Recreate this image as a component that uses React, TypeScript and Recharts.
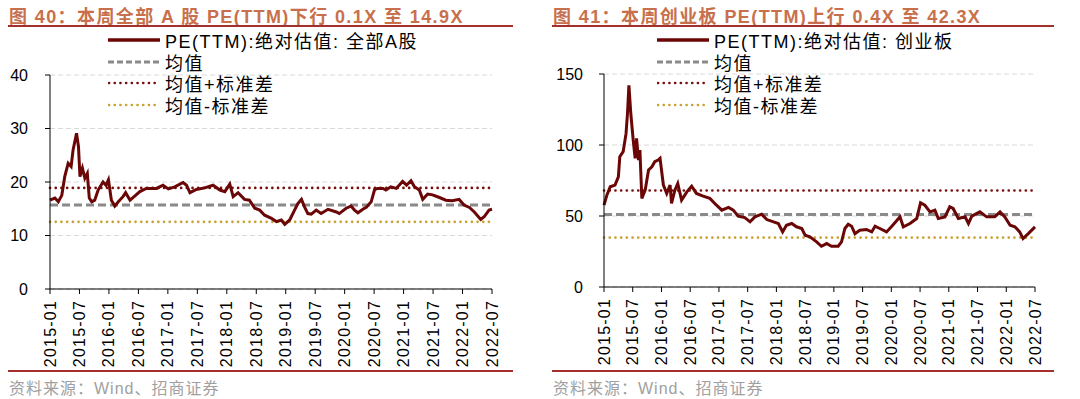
import React from 'react';
import { LineChart, Line, XAxis, YAxis, CartesianGrid, ReferenceLine } from 'recharts';

// months counted from 2015-01
const xTickMonths = [0, 6, 12, 18, 24, 30, 36, 42, 48, 54, 60, 66, 72, 78, 84, 90];
const xTickLabels = [
  '2015-01', '2015-07', '2016-01', '2016-07', '2017-01', '2017-07', '2018-01', '2018-07',
  '2019-01', '2019-07', '2020-01', '2020-07', '2021-01', '2021-07', '2022-01', '2022-07'
];

// 全部A股 PE(TTM)
const allAMonths = [
  0, 1, 1.7, 2.4, 3, 3.7, 4.3, 4.7, 5.4, 5.8, 6.1, 6.6, 7.1, 7.6, 8, 8.5, 9.1, 9.8, 10.8, 11.4,
  11.9, 12.5, 13.2, 13.9, 14.9, 15.4, 16.3, 17.3, 18.3, 19.6, 21.7, 23, 24.1, 25.4, 27.1, 27.8,
  28.5, 29.8, 31.5, 33.2, 34.6, 35.6, 36.6, 37.3, 38.3, 39.6, 40.6, 41.7, 42.7, 43.7, 45.1, 46.1,
  47.1, 47.8, 48.8, 49.8, 50.5, 51.2, 51.8, 52.5, 53.2, 54.2, 55.2, 56.6, 58.3, 58.9, 60.3, 61.3,
  62, 62.7, 63.7, 64.4, 65.4, 66.1, 66.7, 67.8, 68.4, 69.4, 70.5, 71.8, 72.6, 73.5, 74.2, 75.2,
  75.9, 76.9, 77.9, 79.3, 80.6, 81.9, 83.3, 84.3, 85.4, 86.4, 87.7, 88.4, 89.4, 90
];
const allAPe = [
  16.6, 17, 16.3, 17.5, 21, 23.5, 22.9, 26, 29.1, 26.6, 21, 22.6, 20.7, 21.6, 17, 16.3, 16.6, 18.5, 20, 19.4,
  20.4, 16.6, 15.5, 16.3, 17.3, 18, 16.6, 17.4, 18.2, 18.8, 18.8, 19.4, 18.7, 19.1, 19.9, 19.4,
  18, 18.6, 18.9, 19.4, 18.5, 18.2, 19.6, 17.25, 18, 16.75, 16.6, 15.1, 14.75, 13.8, 13.2, 12.6,
  12.9, 12.1, 12.9, 14.75, 16, 16.75, 15.4, 14.1, 14, 14.75, 14.1, 14.9, 14.4, 14.1, 15.1, 15.5,
  14.75, 14.25, 14.9, 15.25, 16.3, 18.6, 18.8, 18.8, 18.5, 19.1, 18.8, 20.1, 19.4, 20.25, 19.1, 18.5,
  16.75, 17.75, 17.6, 17.1, 16.6, 16.5, 16.75, 15.7, 15.25, 14.4, 13, 13.5, 14.75, 14.9
];
const allAStats = [15.7, 18.9, 12.55]; // 均值, 均值+标准差, 均值-标准差

// 创业板 PE(TTM)
const gemMonths = [
  0, 0.6, 1.3, 2.3, 3, 3.3, 4, 4.6, 4.9, 5.2, 5.6, 6.1, 6.5, 6.8, 7.2, 7.5, 7.9, 8.6, 9.3, 10,
  10.6, 11.3, 11.7, 12.4, 13.1, 13.8, 14.1, 14.8, 15.4, 16.2, 17.3, 18.3, 19.3, 20.7, 22.1, 23.5,
  24.6, 26, 27, 28, 29.4, 30.5, 31.5, 32.9, 34, 35.4, 36.4, 37.3, 38.1, 39.2, 40.2, 41.3, 42, 43,
  44.4, 45.4, 46.5, 47.5, 48.9, 49.6, 50.3, 51, 51.7, 52.4, 53.4, 54.8, 55.9, 56.6, 57.6, 59,
  60.1, 61.1, 61.8, 62.5, 63.9, 65.3, 66.1, 67, 68.1, 69.1, 69.8, 71.2, 72.2, 72.9, 74, 75.4,
  76.1, 76.8, 78.5, 79.9, 81.6, 82.7, 83.7, 84.8, 85.8, 86.8, 87.5, 88.6, 90
];
const gemPe = [
  57.6, 64.7, 70.6, 71.8, 77.6, 91.8, 95.3, 108, 122, 142, 122, 103.5, 90.6, 104.7, 89.4, 96.5, 62.4, 68.2, 82.4, 84.7,
  88.2, 89.4, 90.6, 71.8, 65.9, 71.8, 58.8, 68.2, 72.9, 61.2, 67, 71, 65.9, 64, 62.4, 57.6,
  54.1, 56, 54.1, 49.9, 48.9, 45.9, 49.4, 51.3, 47.5, 45.9, 44.7, 38.8, 43.5, 44.7, 42.4, 41.2, 36.5, 35.3,
  31.8, 28.7, 30.6, 28.7, 28.7, 31.8, 41.2, 44.2, 42.8, 37.6, 40, 40.5, 38.8, 42.8, 41.2, 38.8,
  42.8, 46.6, 49.4, 42.4, 44.7, 48.2, 59.3, 57.6, 52.9, 54.1, 48.2, 49.4, 56.5, 55.3, 48.2, 49.4,
  44.7, 49.9, 52.9, 49.4, 49.4, 52.9, 49.4, 43.5, 42.4, 38.8, 34.1, 37.6, 42.3
];
const gemStats = [51, 68, 34.8];

const legendNames = ['均值', '均值+标准差', '均值-标准差'];

const FONT = '"Liberation Sans", Arial, "Noto Sans CJK SC", sans-serif';
const PE_COLOR = '#6b0606';
const MEAN_COLOR = '#8a8a8a';
const UP_COLOR = '#7a0c0c';
const DOWN_COLOR = '#c9a12e';
const TITLE_COLOR = '#c8704c';
const RULE_COLOR = '#a3302c';

const DateTick = (props: any) => {
  const { x, y, payload } = props;
  const idx = xTickMonths.indexOf(payload.value);
  return (
    <g transform={`translate(${x},${y})`}>
      <text
        transform="rotate(-90)"
        x={-4}
        dy={5.5}
        textAnchor="end"
        fontSize={16}
        fill="#000"
        fontFamily={FONT}
        letterSpacing={1.2}
      >
        {xTickLabels[idx]}
      </text>
    </g>
  );
};

interface PanelProps {
  left: number;
  title: string;
  seriesName: string;
  months: number[];
  values: number[];
  stats: number[];
  yMax: number;
  yTicks: number[];
  axisWidth: number;
  tickMargin: number;
  rightMargin: number;
  top: number;
  bottom: number;
  legendX: number;
  ruleLeft: number;
  ruleWidth: number;
}

const LegendSample = ({ kind }: { kind: number }) => {
  if (kind === 0) return <line x1={0} y1={6} x2={52} y2={6} stroke={PE_COLOR} strokeWidth={3.5} />;
  if (kind === 1) return <line x1={0} y1={6} x2={52} y2={6} stroke={MEAN_COLOR} strokeWidth={3} strokeDasharray="6 3" />;
  const color = kind === 2 ? UP_COLOR : DOWN_COLOR;
  return <line x1={1} y1={6} x2={52} y2={6} stroke={color} strokeWidth={2.6} strokeDasharray="0.1 5.6" strokeLinecap="round" />;
};

const Panel = (p: PanelProps) => {
  const data = p.months.map((m, i) => ({ m, pe: p.values[i] }));
  const labels = [p.seriesName, ...legendNames];
  return (
    <div style={{ position: 'absolute', left: p.left, top: 0, width: 540, height: 399, fontFamily: FONT }}>
      <div
        style={{
          position: 'absolute', left: p.ruleLeft + 1, top: 2, fontSize: 18, fontWeight: 'bold',
          color: TITLE_COLOR, whiteSpace: 'nowrap', letterSpacing: 1.4
        }}
      >
        {p.title}
      </div>
      <div style={{ position: 'absolute', left: p.ruleLeft, top: 25, width: p.ruleWidth, height: 2, background: RULE_COLOR }} />
      <div style={{ position: 'absolute', left: p.ruleLeft, top: 370, width: p.ruleWidth, height: 2, background: RULE_COLOR }} />
      <div style={{ position: 'absolute', left: p.ruleLeft + 1, top: 375, fontSize: 16, color: '#a0a0a0', whiteSpace: 'nowrap', letterSpacing: 1 }}>
        资料来源：Wind、招商证券
      </div>
      <LineChart
        width={540}
        height={399}
        data={data}
        margin={{ top: p.top, right: p.rightMargin, left: 0, bottom: p.bottom - 72 }}
      >
        <CartesianGrid vertical={false} stroke="#d9d9d9" strokeDasharray="5 3" strokeWidth={1.2} />
        <XAxis
          dataKey="m"
          type="number"
          domain={[0, 90]}
          ticks={xTickMonths}
          interval={0}
          height={72}
          tick={<DateTick />}
          tickSize={5}
          tickLine={{ stroke: '#000' }}
          axisLine={{ stroke: '#000' }}
        />
        <YAxis
          domain={[0, p.yMax]}
          ticks={p.yTicks}
          interval={0}
          width={p.axisWidth}
          tickSize={5}
          tickMargin={p.tickMargin}
          tick={{ fontSize: 16, fill: '#000', fontFamily: FONT }}
          tickLine={{ stroke: '#000' }}
          axisLine={{ stroke: '#000' }}
        />
        <ReferenceLine y={p.stats[0]} stroke={MEAN_COLOR} strokeWidth={3} strokeDasharray="8 4" />
        <ReferenceLine y={p.stats[1]} stroke={UP_COLOR} strokeWidth={2.6} strokeDasharray="0.1 5.6" strokeLinecap="round" />
        <ReferenceLine y={p.stats[2]} stroke={DOWN_COLOR} strokeWidth={2.6} strokeDasharray="0.1 5.6" strokeLinecap="round" />
        <Line
          type="linear"
          dataKey="pe"
          stroke={PE_COLOR}
          strokeWidth={3}
          dot={false}
          isAnimationActive={false}
        />
      </LineChart>
      <div style={{ position: 'absolute', left: p.legendX, top: 29 }}>
        {labels.map((name, i) => (
          <div key={name} style={{ display: 'flex', alignItems: 'center', height: 21.7, fontSize: 18, color: '#000', whiteSpace: 'nowrap', letterSpacing: 1.5 }}>
            <svg width={56} height={12} style={{ marginRight: 1 }}>
              <LegendSample kind={i} />
            </svg>
            {name}
          </div>
        ))}
      </div>
    </div>
  );
};

export default function App() {
  return (
    <div style={{ position: 'absolute', left: 0, top: 0, width: 1080, height: 399, background: '#fff' }}>
      <Panel
        left={0}
        title="图 40：本周全部 A 股 PE(TTM)下行 0.1X 至 14.9X"
        seriesName="PE(TTM):绝对估值: 全部A股"
        months={allAMonths}
        values={allAPe}
        stats={allAStats}
        yMax={40}
        yTicks={[0, 10, 20, 30, 40]}
        axisWidth={50}
        tickMargin={17}
        rightMargin={48}
        top={75}
        bottom={110}
        legendX={108}
        ruleLeft={8}
        ruleWidth={505}
      />
      <Panel
        left={540}
        title="图 41：本周创业板 PE(TTM)上行 0.4X 至 42.3X"
        seriesName="PE(TTM):绝对估值: 创业板"
        months={gemMonths}
        values={gemPe}
        stats={gemStats}
        yMax={150}
        yTicks={[0, 50, 100, 150]}
        axisWidth={64}
        tickMargin={16}
        rightMargin={45}
        top={74}
        bottom={112}
        legendX={117}
        ruleLeft={12}
        ruleWidth={502}
      />
    </div>
  );
}
